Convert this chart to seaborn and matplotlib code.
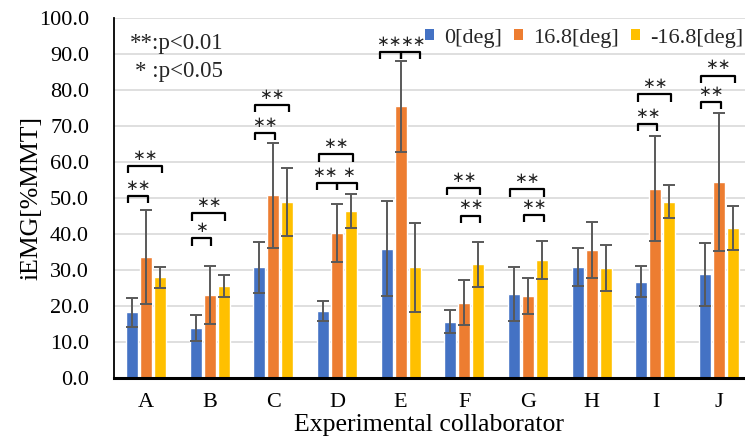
import matplotlib
matplotlib.use("Agg")
import matplotlib.pyplot as plt
from matplotlib.patches import Patch
import seaborn as sns
import pandas as pd
import numpy as np

# iEMG means and standard deviations per collaborator and tilt condition
collaborators = ["A", "B", "C", "D", "E", "F", "G", "H", "I", "J"]
conditions = ["0[deg]", "16.8[deg]", "-16.8[deg]"]
mean_0 = [18.2, 14.0, 30.7, 18.7, 35.9, 15.6, 23.4, 30.9, 26.8, 28.8]
mean_p168 = [33.6, 23.1, 50.7, 40.3, 75.5, 20.9, 22.8, 35.5, 52.6, 54.4]
mean_m168 = [28.0, 25.6, 48.9, 46.4, 30.7, 31.6, 32.8, 30.6, 49.0, 41.7]
sd_0 = [3.9, 3.6, 7.2, 2.8, 13.2, 3.2, 7.5, 5.3, 4.2, 8.8]
sd_p168 = [13.1, 8.0, 14.7, 8.0, 12.6, 6.3, 5.0, 7.7, 14.5, 19.2]
sd_m168 = [2.9, 3.1, 9.5, 4.7, 12.3, 6.3, 5.3, 6.3, 4.5, 6.1]

# significance brackets: (collaborator, left condition, right condition, height, label)
brackets = [
    ("A", 0, 1, 50.6, "∗∗"), ("A", 0, 2, 58.9, "∗∗"),
    ("B", 0, 1, 38.8, "∗"), ("B", 0, 2, 45.7, "∗∗"),
    ("C", 0, 1, 68.1, "∗∗"), ("C", 0, 2, 75.8, "∗∗"),
    ("D", 0, 1, 54.1, "∗∗"), ("D", 1, 2, 54.1, "∗"), ("D", 0, 2, 62.1, "∗∗"),
    ("E", 0, 1, 90.6, "∗∗"), ("E", 1, 2, 90.6, "∗∗"),
    ("F", 1, 2, 45.1, "∗∗"), ("F", 0, 2, 52.7, "∗∗"),
    ("G", 1, 2, 45.3, "∗∗"), ("G", 0, 2, 52.4, "∗∗"),
    ("I", 0, 1, 70.6, "∗∗"), ("I", 0, 2, 78.8, "∗∗"),
    ("J", 0, 1, 76.6, "∗∗"), ("J", 0, 2, 84.0, "∗∗"),
]

colors = ["#4472C4", "#ED7D31", "#FFC000"]
serif = ["Liberation Serif", "DejaVu Serif"]
star_font = ["DejaVu Sans"]

df = pd.DataFrame({
    "collaborator": collaborators * 3,
    "condition": [c for c in conditions for _ in collaborators],
    "iemg": mean_0 + mean_p168 + mean_m168,
    "sd": sd_0 + sd_p168 + sd_m168,
})

sns.set_theme(style="white")
plt.rcParams["font.family"] = serif

W, H = 745, 448
fig = plt.figure(figsize=(W / 100, H / 100), dpi=100)
ax = fig.add_axes([114 / W, 70 / H, 631 / W, 360 / H])

sns.barplot(data=df, x="collaborator", y="iemg", hue="condition",
            order=collaborators, hue_order=conditions, palette=colors,
            width=0.66, gap=0.14, errorbar=None, saturation=1,
            legend=False, ax=ax)

# error bars at bar centres
centers = {}
for ci, sds in enumerate([sd_0, sd_p168, sd_m168]):
    for k, bar in enumerate(ax.containers[ci].patches):
        x = bar.get_x() + bar.get_width() / 2
        centers[(collaborators[k], ci)] = x
        ax.errorbar(x, bar.get_height(), yerr=sds[k], fmt="none", ecolor="#595959",
                    elinewidth=1.4, capsize=4.5, capthick=1.4, zorder=3)

# significance brackets with star marks; two brackets sharing a level
# split at the middle bar and reach a little further outwards
levels = {}
for who, a, b, h, lab in brackets:
    levels.setdefault((who, h), []).append((a, b))
for who, a, b, h, lab in brackets:
    split = len(levels[(who, h)]) > 1
    x0 = centers[(who, a)] - (0.10 if split and a == 0 else 0.06 if not split else 0.0)
    x1 = centers[(who, b)] + (0.09 if split and b == 2 else 0.03 if not split else 0.0)
    ax.plot([x0, x0, x1, x1], [h - 2.0, h, h, h - 2.0], color="black",
            lw=1.6, solid_capstyle="butt", zorder=4)
    xm = (x0 + x1) / 2
    if split:
        xm += -0.03 if a == 0 else 0.03
    ax.text(xm, h + 3.0, lab, ha="center", va="center",
            fontsize=11, family=star_font, color="#222222", zorder=4)

ax.set_ylim(0, 100)
ax.set_xlim(-0.5, 9.406)
ax.set_yticks(np.arange(0, 101, 10))
ax.set_yticklabels([f"{v:.1f}" for v in np.arange(0, 101, 10)])
ax.yaxis.grid(True, color="#D9D9D9", lw=1.2)
ax.set_axisbelow(True)
ax.tick_params(axis="y", length=0, pad=18, labelsize=16)
ax.tick_params(axis="x", length=0, pad=11, labelsize=16)
for lab in ax.get_xticklabels() + ax.get_yticklabels():
    lab.set_color("black")
ax.set_xlabel("Experimental collaborator", fontsize=18.5, color="black")
ax.set_ylabel("iEMG[%MMT]", fontsize=18.5, color="black")
ax.xaxis.set_label_coords(0.5, -(414 - 378) / 360)
ax.yaxis.set_label_coords((43 - 114) / 631, 0.5)

for side in ["top", "right"]:
    ax.spines[side].set_visible(False)
ax.spines["left"].set_color("black")
ax.spines["left"].set_linewidth(1.3)
ax.spines["bottom"].set_color("black")
ax.spines["bottom"].set_linewidth(2.2)

# legend across the top right with square swatches
handles = [Patch(facecolor=c, edgecolor="none") for c in colors]
ax.legend(handles, conditions, loc="center left", bbox_to_anchor=(425 / W, 1 - 38 / H),
          bbox_transform=fig.transFigure, ncol=3, frameon=False,
          fontsize=16, handlelength=0.4, handleheight=0.4,
          handletextpad=0.45, columnspacing=0.55, borderaxespad=0, borderpad=0)

# significance key
fig.text(130 / W, 1 - 43 / H, "**:p<0.01", fontsize=16.5, va="center",
         ha="left", family=serif)
fig.text(135 / W, 1 - 72 / H, "* :p<0.05", fontsize=16.5, va="center",
         ha="left", family=serif)

fig.savefig("out.png", dpi=100)
